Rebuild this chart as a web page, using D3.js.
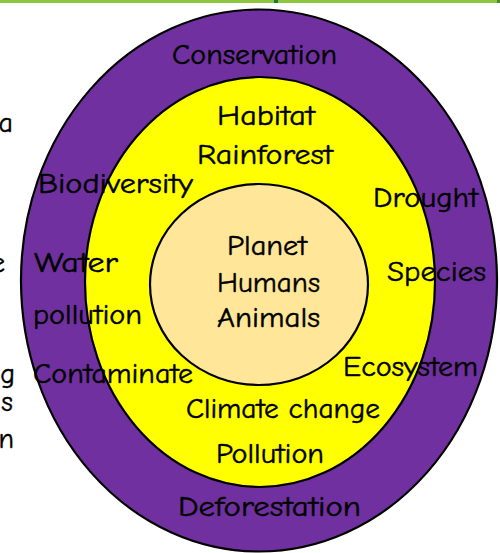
<!DOCTYPE html>
<html>
<head>
<meta charset="utf-8">
<script src="https://cdn.jsdelivr.net/npm/d3@7"></script>
<style>
  html, body { margin: 0; padding: 0; background: #fff; }
  svg text { font-family: "Comic Sans MS", "Comic Neue", Lato, "DejaVu Sans", sans-serif; fill: #000; stroke: #000; stroke-width: 0.45px; }
</style>
</head>
<body>
<svg id="chart" width="500" height="553"></svg>
<script>
// rings, outside in
const ringNames = ['outer', 'middle', 'core'];
const ringColors = ['#7030a0', '#ffff00', '#ffe699'];

// words on the diagram
const outerWords = ['Conservation', 'Biodiversity', 'Drought', 'Water', 'Species', 'pollution', 'Contaminate', 'Ecosystem', 'Deforestation'];
const middleWords = ['Habitat', 'Rainforest', 'Climate change', 'Pollution'];
const coreWords = ['Planet', 'Humans', 'Animals'];
// clipped words from the slide text on the left
const sideWords = ['a', 'e', 'g', 's', 'n'];

// layout
const W = 500, H = 553;
const ringBox = {
    outer: {cx: 259, cy: 280.5, rx: 238, ry: 271},
    middle: {cx: 260, cy: 282, rx: 175, ry: 205},
    core: {cx: 259, cy: 284.5, rx: 109, ry: 100.5}
};
// left x, baseline, width
const wordBox = {
    'Conservation': [172, 64, 165],
    'Habitat': [217, 125, 98],
    'Rainforest': [197, 164, 136],
    'Biodiversity': [38, 193, 155],
    'Drought': [373, 207, 105],
    'Water': [34, 272, 84],
    'Species': [387, 281, 99],
    'pollution': [33, 324, 109],
    'Contaminate': [33, 383, 160],
    'Ecosystem': [343, 376, 135],
    'Climate change': [186, 418, 194],
    'Pollution': [216, 463, 108],
    'Deforestation': [178, 516, 183],
    'Planet': [227, 255, 80],
    'Humans': [217, 292, 103],
    'Animals': [217, 327, 103]
};
const sideBox = {a: [13, 132], e: [5, 272], g: [15, 383], s: [13, 411], n: [14, 448]};

const svg = d3.select('#chart');

// green rule along the top
svg.append('rect').attr('x', 0).attr('y', 0).attr('width', W).attr('height', 3).attr('fill', '#8dc63f');
svg.append('rect').attr('x', 274).attr('y', 0).attr('width', 4).attr('height', 3).attr('fill', '#1e7b32');
svg.append('rect').attr('x', 497).attr('y', 0).attr('width', 3).attr('height', 3).attr('fill', '#4f8a2a');

// side text, mostly cut off
svg.selectAll('text.side').data(sideWords)
    .join('text').attr('class', 'side')
    .attr('x', d => sideBox[d][0]).attr('y', d => sideBox[d][1])
    .attr('text-anchor', 'end')
    .style('font-size', '28px')
    .text(d => d);

svg.selectAll('ellipse.ring').data(ringNames)
    .join('ellipse').attr('class', 'ring')
    .attr('cx', d => ringBox[d].cx).attr('cy', d => ringBox[d].cy)
    .attr('rx', d => ringBox[d].rx).attr('ry', d => ringBox[d].ry)
    .attr('fill', (d, i) => ringColors[i])
    .attr('stroke', '#000').attr('stroke-width', 2.2);

svg.selectAll('text.word').data([...outerWords, ...middleWords, ...coreWords])
    .join('text').attr('class', 'word')
    .attr('x', d => wordBox[d][0]).attr('y', d => wordBox[d][1])
    .attr('textLength', d => wordBox[d][2])
    .attr('lengthAdjust', 'spacingAndGlyphs')
    .style('font-size', '28px')
    .text(d => d);
</script>
</body>
</html>
